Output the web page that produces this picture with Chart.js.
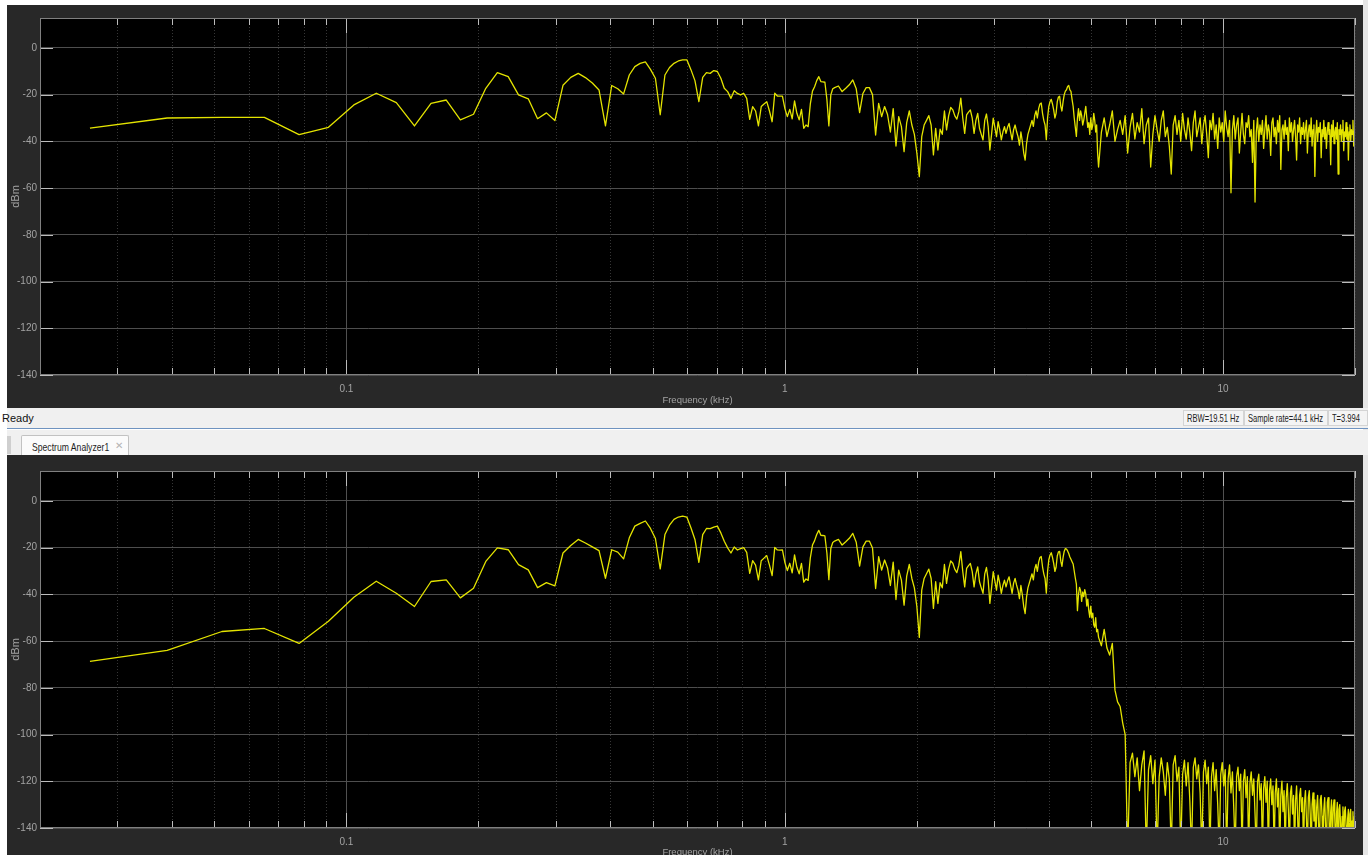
<!DOCTYPE html>
<html>
<head>
<meta charset="utf-8">
<title>Spectrum Analyzer</title>
<script src="https://cdn.jsdelivr.net/npm/chart.js@4.4.1/dist/chart.umd.min.js"></script>
<style>
  html, body { margin: 0; padding: 0; }
  body {
    width: 1368px; height: 855px; overflow: hidden; position: relative;
    background: #ffffff;
    font-family: "Liberation Sans", Arial, sans-serif;
  }
  #rightEdge { position: absolute; left: 1363px; top: 0; width: 5px; height: 855px; background: #e6e6e6; }
  .panel { position: absolute; left: 7px; width: 1356px; background: #282828; overflow: hidden; }
  .panel canvas { position: absolute; left: 0; top: 0; display: block; }
  #topPanel { top: 5px; height: 403px; }
  #bottomPanel { top: 455px; height: 410px; }

  #status {
    position: absolute; left: 7px; top: 408px; width: 1361px; height: 20px;
    background: #f0f0f0; border-bottom: 1px solid #6f93c0;
  }
  #status .ready { position: absolute; left: -5px; top: 4px; font-size: 11px; color: #111; white-space: nowrap; }
  #status .cell {
    position: absolute; top: 2px; height: 16px; line-height: 15px;
    border: 1px solid #d4d4d4; background: #f4f4f4; box-sizing: border-box;
    white-space: nowrap;
  }
  .squeeze { display: inline-block; font-size: 11px; color: #222; transform: scaleX(0.78); transform-origin: left center; white-space: nowrap; }
  #status .cell .squeeze { position: absolute; left: 3px; top: 0; font-size: 10.5px; transform: scaleX(0.72); }
  #tabbar { position: absolute; left: 7px; top: 430px; width: 1361px; height: 25px; background: #f0f0f0; }
  #grip { position: absolute; left: 0px; top: 6px; width: 4px; height: 18px;
    background-image: radial-gradient(#a8a8a8 0.6px, transparent 0.8px); background-size: 2px 2px; }
  #tab {
    position: absolute; left: 14px; top: 5px; width: 108px; height: 20px; box-sizing: border-box;
    background: #fbfbfb; border: 1px solid #c2c2c2; border-bottom: none; border-radius: 2px 2px 0 0;
    line-height: 19px; padding-left: 10px; white-space: nowrap; overflow: hidden;
  }
  #tab .squeeze { color: #1e1e1e; font-size: 11.5px; transform: scaleX(0.75); }
  #tab .close { position: absolute; left: 93px; top: 0; color: #b4b4b4; font-size: 10px; }
  #splitDot { position: absolute; left: 685px; top: 431px; width: 2px; height: 3px; background: #333; }
</style>
</head>
<body>
<div id="rightEdge"></div>
<div id="topPanel" class="panel"><canvas id="topChart" width="1356" height="403"></canvas></div>
<div id="status">
  <span class="ready">Ready</span>
  <span class="cell" style="left:1176px;width:61px"><span class="squeeze">RBW=19.51 Hz</span></span>
  <span class="cell" style="left:1237px;width:84px"><span class="squeeze">Sample rate=44.1 kHz</span></span>
  <span class="cell" style="left:1321px;width:40px"><span class="squeeze">T=3.994</span></span>
</div>
<div id="splitDot"></div>
<div id="tabbar">
  <div id="grip"></div>
  <div id="tab"><span class="squeeze">Spectrum Analyzer1</span><span class="close">&#x2715;</span></div>
</div>
<div id="bottomPanel" class="panel"><canvas id="bottomChart" width="1356" height="410"></canvas></div>

<script>
// FFT bins are 13 Hz apart; low bins kept one by one, higher bins thinned out
const binWidthKHz = 0.013;
const lowFirstBin = 2;     // bins 2..99, every bin
const midFirstBin = 100;   // bins 100..398, every 2nd bin
const midStep = 2;
const highFirstBin = 400;  // bins 400..1540, every 6th bin
const highStep = 6;

// axis ticks
const freqGridKHz = [0.02, 0.03, 0.04, 0.05, 0.06, 0.07, 0.08, 0.09,
  0.1, 0.2, 0.3, 0.4, 0.5, 0.6, 0.7, 0.8, 0.9,
  1, 2, 3, 4, 5, 6, 7, 8, 9, 10, 20];
const freqLabelKHz = [0.1, 1, 10];
const levelTicksDbm = [-140, -120, -100, -80, -60, -40, -20, 0];

// top analyzer (input signal), dBm
const topLow = [
  -34.3, -30.0, -29.7, -29.7, -37.1, -34.0, -24.4, -19.4, -23.4, -33.4,
  -23.7, -22.3, -30.8, -28.4, -17.3, -10.6, -12.3, -20.1, -21.8, -30.3,
  -27.8, -31.1, -16.0, -12.6, -10.9, -12.7, -15.0, -18.0, -33.4, -16.1,
  -17.5, -19.7, -11.6, -8.0, -6.6, -6.0, -9.2, -13.0, -28.6, -11.6,
  -8.4, -6.6, -5.6, -5.1, -5.1, -9.3, -14.0, -23.0, -12.6, -10.6,
  -10.9, -9.7, -10.1, -13.0, -17.3, -18.7, -21.6, -18.3, -19.5, -20.1,
  -19.4, -21.6, -30.6, -25.1, -27.0, -33.4, -25.1, -24.0, -23.0, -27.0,
  -31.6, -19.4, -20.6, -20.6, -20.6, -26.0, -29.4, -26.3, -30.4, -22.7,
  -28.0, -30.8, -26.3, -34.4, -33.0, -33.7, -24.0, -18.5, -16.6, -14.0,
  -12.3, -14.4, -14.5, -14.7, -22.0, -33.4, -20.1, -17.5
];
const topMid = [
  -17.0, -16.3, -18.7, -17.3, -15.8, -13.7, -17.5, -27.7, -19.5, -17.0,
  -17.0, -20.0, -37.3, -23.7, -29.4, -25.1, -28.5, -36.0, -26.0, -42.0,
  -29.4, -33.7, -44.4, -32.0, -27.0, -33.0, -37.0, -45.0, -55.1, -38.0,
  -33.0, -31.0, -29.0, -33.0, -45.8, -34.4, -43.7, -34.8, -37.0, -27.0,
  -35.1, -29.0, -25.5, -26.5, -29.1, -30.5, -27.3, -21.5, -30.0, -36.6,
  -28.7, -27.5, -26.6, -30.1, -36.6, -31.0, -28.0, -34.4, -37.0, -39.4,
  -31.0, -28.3, -33.7, -43.7, -37.0, -30.1, -34.0, -38.0, -31.6, -35.0,
  -39.4, -36.0, -33.7, -36.6, -34.0, -32.3, -36.0, -39.4, -35.0, -33.0,
  -35.8, -38.0, -41.6, -36.0, -40.0, -45.0, -48.0, -41.0, -37.0, -35.0,
  -33.0, -31.0, -33.6, -29.0, -27.0, -30.0, -26.0, -24.0, -23.6, -28.0,
  -31.0, -33.0, -39.3, -30.0, -25.0, -23.0, -22.0, -24.0, -26.5, -30.0,
  -28.0, -23.0, -21.0, -20.7, -25.0, -27.0, -23.0, -20.0, -18.5, -17.9,
  -16.5, -16.1, -18.0, -18.6, -22.0, -25.0, -30.0, -34.0, -37.9, -30.0,
  -26.0, -31.0, -27.0, -29.0, -33.0, -31.0, -28.0, -25.0, -30.0, -34.0,
  -32.0, -37.0, -30.0, -35.0, -33.0, -28.0, -31.0, -36.0, -33.0, -45.0
];
const topHigh = [
  -51, -36, -30, -38, -33, -27, -40, -35, -31, -37,
  -29, -45, -34, -28, -39, -32, -36, -26, -41, -33,
  -30, -51, -37, -29, -35, -40, -31, -27, -38, -34,
  -42, -54, -33, -29, -37, -31, -40, -28, -35, -39,
  -30, -36, -44, -32, -27, -38, -34, -30, -41, -33,
  -29, -37, -47, -31, -35, -28, -39, -33, -43, -30,
  -36, -32, -40, -27, -34, -38, -31, -62, -35, -29,
  -39, -33, -30, -45, -36, -28, -37, -41, -32, -34,
  -29, -38, -35, -49, -31, -66, -36, -30, -40, -33,
  -37, -31, -43, -35, -29, -39, -33, -36, -46, -32,
  -30, -38, -34, -41, -31, -36, -29, -52, -35, -33,
  -39, -31, -37, -34, -44, -30, -36, -32, -40, -35,
  -31, -38, -48, -33, -36, -30, -41, -34, -37, -32,
  -39, -35, -31, -45, -36, -33, -38, -30, -42, -35,
  -33, -55, -37, -31, -40, -34, -36, -32, -47, -35,
  -38, -31, -39, -34, -43, -36, -32, -37, -35, -50,
  -33, -38, -31, -41, -36, -34, -39, -32, -54, -35,
  -37, -33, -40, -35, -31, -44, -36, -38, -32, -39,
  -34, -48, -36, -33, -40, -35, -37, -31, -42, -36, -34
];

// bottom analyzer (filtered signal), dBm
const bottomLow = [
  -68.7, -64.0, -55.9, -54.6, -61.0, -51.5, -41.2, -34.4, -39.5, -45.2,
  -34.5, -33.8, -41.5, -37.4, -25.9, -20.1, -20.9, -27.3, -29.5, -37.1,
  -35.0, -36.4, -22.3, -19.1, -16.5, -18.0, -19.7, -21.3, -33.1, -20.9,
  -21.9, -24.8, -15.8, -10.8, -9.6, -8.6, -11.8, -16.1, -29.1, -14.4,
  -10.4, -7.9, -6.9, -6.5, -6.9, -11.5, -16.5, -26.3, -14.4, -11.8,
  -11.9, -11.2, -10.8, -13.7, -17.3, -20.1, -22.3, -19.7, -21.0, -20.4,
  -20.0, -22.0, -31.0, -25.6, -27.5, -33.8, -25.6, -24.5, -23.4, -27.5,
  -32.0, -19.9, -21.0, -21.1, -21.0, -26.4, -29.8, -26.7, -30.8, -23.1,
  -28.4, -31.2, -26.7, -34.8, -33.4, -34.0, -24.4, -18.9, -17.0, -14.4,
  -12.6, -14.7, -14.8, -15.0, -22.3, -33.7, -20.4, -17.8
];
const bottomMid = [
  -17.2, -16.5, -18.9, -17.5, -16.0, -13.9, -17.7, -27.9, -19.7, -17.2,
  -17.2, -20.2, -37.5, -23.9, -29.6, -25.3, -28.7, -36.2, -26.2, -42.2,
  -29.6, -33.9, -44.6, -32.2, -27.2, -33.2, -37.2, -45.2, -58.4, -38.2,
  -33.2, -31.2, -29.2, -33.2, -46.0, -34.6, -43.9, -35.0, -37.2, -27.2,
  -35.3, -29.2, -25.7, -26.7, -29.3, -30.7, -27.5, -21.7, -30.2, -36.8,
  -28.9, -27.7, -26.8, -30.3, -36.8, -31.2, -28.2, -34.6, -37.2, -39.6,
  -31.2, -28.5, -33.9, -43.9, -37.2, -30.3, -34.2, -38.2, -31.8, -35.2,
  -39.6, -36.2, -33.9, -36.8, -34.2, -32.5, -36.2, -39.6, -35.2, -33.2,
  -36.0, -38.2, -41.8, -36.2, -40.2, -45.2, -48.2, -41.2, -37.2, -35.2,
  -33.2, -31.2, -33.8, -29.2, -27.2, -30.2, -26.2, -24.2, -23.8, -28.2,
  -31.2, -33.2, -39.5, -30.2, -25.2, -23.2, -22.2, -24.2, -26.7, -30.2,
  -28.4, -23.6, -21.8, -21.6, -25.8, -28.0, -24.2, -21.5, -20.4, -20.6,
  -21.4, -22.5, -24.0, -25.0, -26.0, -27.0, -30.0, -33.0, -35.6, -47.0,
  -40.0, -37.0, -38.4, -43.0, -39.0, -41.0, -38.0, -39.9, -45.0, -42.0,
  -47.0, -49.8, -45.0, -50.0, -48.0, -53.0, -54.1, -50.0, -56.0, -55.0
];
const bottomHigh = [
  -58.4, -62, -55, -63, -66, -61, -81, -86, -88, -95,
  -100, -150, -112, -108, -118, -110, -124, -113, -107, -150,
  -115, -109, -121, -111, -150, -118, -110, -116, -126, -112,
  -119, -150, -113, -109, -120, -114, -150, -117, -111, -122,
  -112, -128, -150, -114, -110, -119, -113, -125, -150, -116,
  -111, -121, -114, -150, -118, -112, -124, -115, -130, -150,
  -117, -112, -122, -115, -150, -119, -113, -125, -116, -132,
  -150, -118, -114, -124, -117, -150, -120, -115, -127, -118,
  -150, -121, -116, -126, -119, -134, -150, -120, -117, -128,
  -121, -150, -123, -118, -129, -120, -150, -124, -119, -130,
  -122, -150, -125, -119, -131, -123, -150, -126, -120, -133,
  -124, -150, -127, -121, -132, -150, -125, -122, -134, -126,
  -150, -128, -122, -135, -150, -126, -123, -133, -127, -150,
  -129, -124, -136, -150, -127, -124, -134, -150, -130, -125,
  -137, -128, -150, -131, -126, -138, -150, -128, -126, -135,
  -150, -132, -127, -139, -150, -129, -127, -136, -150, -133,
  -128, -150, -131, -128, -137, -150, -134, -129, -150, -132,
  -130, -138, -150, -135, -131, -150, -133, -131, -139, -150,
  -136, -132, -150, -134, -132, -150, -137, -133, -150, -135, -150
];

// turn the three bin groups into {x: kHz, y: dBm} points
function spectrumPoints(low, mid, high) {
  const pts = [];
  low.forEach((v, i) => pts.push({ x: (lowFirstBin + i) * binWidthKHz, y: v }));
  mid.forEach((v, i) => pts.push({ x: (midFirstBin + i * midStep) * binWidthKHz, y: v }));
  high.forEach((v, i) => pts.push({ x: (highFirstBin + i * highStep) * binWidthKHz, y: v }));
  return pts;
}

const labelFont = { family: '"Liberation Sans", Arial, sans-serif', size: 10 };
const titleFont = { family: '"Liberation Sans", Arial, sans-serif', size: 9.5 };
const dbmFont = { family: '"Liberation Sans", Arial, sans-serif', size: 11 };
const textColor = '#a3a3a3';

// black plot area, decade / minor grid, frame and inside tick marks
const analyzerFrame = {
  id: 'analyzerFrame',
  beforeDraw(chart) {
    const { ctx, chartArea: a } = chart;
    ctx.save();
    ctx.fillStyle = '#000000';
    ctx.fillRect(a.left, a.top, a.right - a.left, a.bottom - a.top);
    ctx.restore();
  },
  beforeDatasetsDraw(chart) {
    const { ctx, chartArea: a, scales: { x } } = chart;
    ctx.save();
    ctx.lineWidth = 1;
    freqGridKHz.forEach(f => {
      const px = Math.round(x.getPixelForValue(f)) + 0.5;
      const major = freqLabelKHz.includes(f);
      ctx.strokeStyle = major ? '#505050' : '#363636';
      ctx.setLineDash(major ? [] : [1, 2]);
      ctx.beginPath();
      ctx.moveTo(px, a.top);
      ctx.lineTo(px, a.bottom);
      ctx.stroke();
    });
    ctx.restore();
  },
  afterDraw(chart) {
    const { ctx, chartArea: a, scales: { x, y } } = chart;
    ctx.save();
    ctx.lineWidth = 1;
    ctx.strokeStyle = '#bcbcbc';
    ctx.beginPath();
    freqGridKHz.forEach(f => {
      const px = Math.round(x.getPixelForValue(f)) + 0.5;
      const len = freqLabelKHz.includes(f) ? 15 : 7;
      ctx.moveTo(px, a.top); ctx.lineTo(px, a.top + len);
      ctx.moveTo(px, a.bottom); ctx.lineTo(px, a.bottom - len);
    });
    levelTicksDbm.forEach(v => {
      const py = Math.round(y.getPixelForValue(v)) + 0.5;
      ctx.moveTo(a.left, py); ctx.lineTo(a.left + 13, py);
      ctx.moveTo(a.right, py); ctx.lineTo(a.right - 13, py);
    });
    ctx.stroke();
    ctx.strokeStyle = '#808080';
    ctx.strokeRect(Math.round(a.left) + 0.5, Math.round(a.top) + 0.5,
      Math.round(a.right - a.left) - 1, Math.round(a.bottom - a.top) - 1);
    ctx.restore();
  }
};

function makeAnalyzer(canvasId, points, topPad, axisHeight, titlePad) {
  return new Chart(document.getElementById(canvasId), {
    type: 'line',
    data: {
      datasets: [{
        data: points,
        borderColor: '#e4e400',
        borderWidth: 1.3,
        borderJoinStyle: 'round',
        pointRadius: 0,
        tension: 0
      }]
    },
    options: {
      responsive: false,
      animation: false,
      events: [],
      parsing: false,
      layout: { padding: { top: topPad, right: 7, left: 0, bottom: 0 } },
      plugins: { legend: { display: false }, tooltip: { enabled: false } },
      scales: {
        x: {
          type: 'logarithmic',
          min: 0.02,
          max: 20,
          afterBuildTicks: scale => { scale.ticks = freqGridKHz.map(v => ({ value: v })); },
          afterFit: scale => { scale.height = axisHeight; },
          grid: { display: false, drawTicks: false },
          border: { display: false },
          ticks: {
            autoSkip: false, maxRotation: 0, minRotation: 0, padding: 8,
            color: textColor, font: labelFont,
            callback: v => freqLabelKHz.includes(v) ? String(v) : ''
          },
          title: { display: true, text: 'Frequency (kHz)', color: textColor, font: titleFont,
                   padding: { top: 0, bottom: titlePad } }
        },
        y: {
          min: -140,
          max: 12.8,
          afterBuildTicks: scale => { scale.ticks = levelTicksDbm.map(v => ({ value: v })); },
          afterFit: scale => { scale.width = 33; },
          grid: { color: '#4e4e4e', lineWidth: 1, drawTicks: false },
          border: { display: false },
          ticks: { padding: 3, color: textColor, font: labelFont },
          title: { display: true, text: 'dBm', color: textColor, font: dbmFont,
                   padding: { top: 2, bottom: 0 } }
        }
      }
    },
    plugins: [analyzerFrame]
  });
}

makeAnalyzer('topChart', spectrumPoints(topLow, topMid, topHigh), 13, 33, 1.5);
makeAnalyzer('bottomChart', spectrumPoints(bottomLow, bottomMid, bottomHigh), 16, 37, 6.5);
</script>
</body>
</html>
